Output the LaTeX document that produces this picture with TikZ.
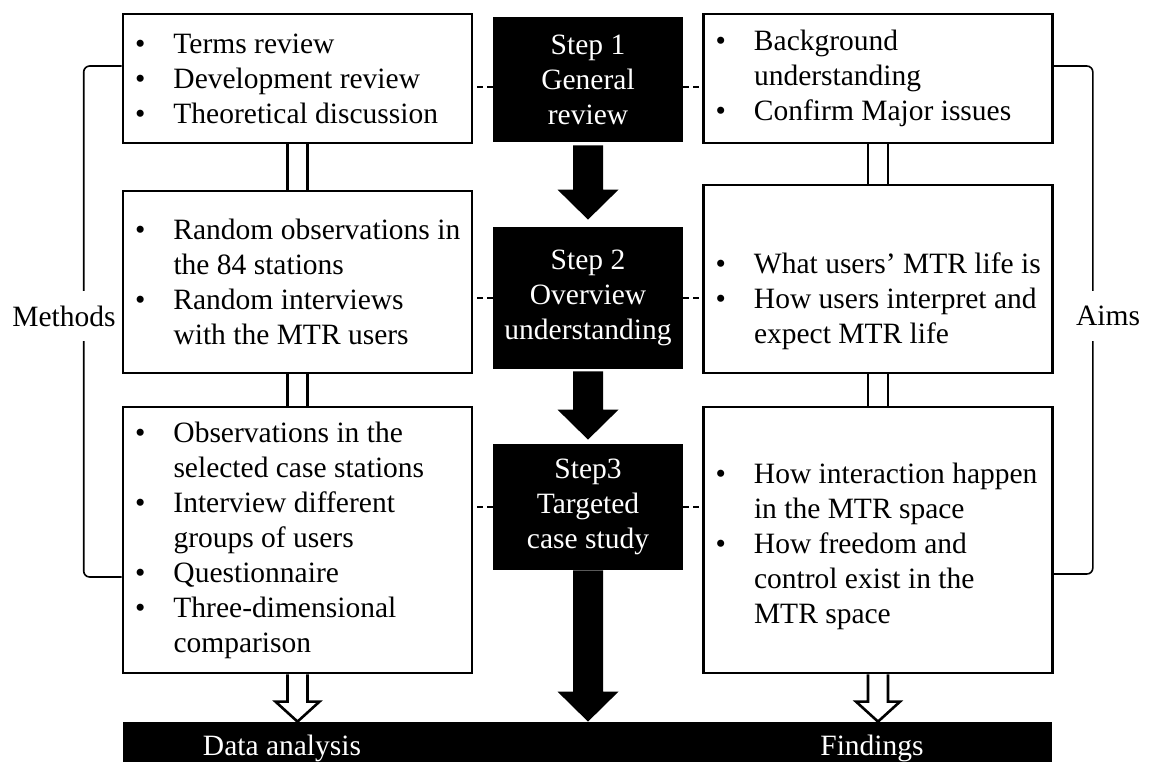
\documentclass[tikz,border=0pt]{standalone}
\usepackage{fontspec}
\setmainfont{Liberation Serif}
\usetikzlibrary{calc}
\tikzstyle{mbox} = [draw, line width=1.3pt, fill=white, text width=162.5pt, inner xsep=6pt, inner ysep=0pt, align=flush left]
\tikzstyle{stepbox} = [fill=black, text=white, minimum width=95pt, inner sep=0pt, align=center]
\tikzstyle{dashline} = [line width=1.3pt, dash pattern=on 3pt off 2pt]
\tikzstyle{dbl} = [line width=1.2pt]
\tikzstyle{brk} = [line width=0.8pt, rounded corners=3pt]
\tikzstyle{side} = [fill=white, inner xsep=1pt, inner ysep=7.5pt]
\def\itm#1{\mbox{\makebox[19.25pt][l]{\textbullet}#1}}
\def\cnt#1{\mbox{\hspace*{19.25pt}#1}}
\def\fatarrow(#1)(#2){\fill ($(#1)+(-15,0)$) -- ($(#2)+(-15,-30)$) -- ($(#2)+(-30.5,-30)$) -- (#2) -- ($(#2)+(30.5,-30)$) -- ($(#2)+(15,-30)$) -- ($(#1)+(15,0)$) -- cycle;}
\def\openarrow(#1)(#2){\filldraw[fill=white, line width=1.3pt] ($(#1)+(-10,0)$) -- ($(#2)+(-10,-20)$) -- ($(#2)+(-22,-20)$) -- (#2) -- ($(#2)+(22,-20)$) -- ($(#2)+(10,-20)$) -- ($(#1)+(10,0)$);}

\begin{document}
\begin{tikzpicture}[x=0.5pt, y=-0.5pt, font=\fontsize{14.75pt}{17.5pt}\selectfont]
\useasboundingbox (0,0) rectangle (1149,762);
% methods column
\node[mbox, minimum height=64.5pt] (L1) at (297.5,78.5) {\itm{Terms review}\\ \itm{Development review}\\ \itm{Theoretical discussion}};
\node[mbox, minimum height=91pt] (L2) at (297.5,282) {\itm{Random observations in}\\ \cnt{the 84 stations}\\ \itm{Random interviews}\\ \cnt{with the MTR users}};
\node[mbox, minimum height=133pt] (L3) at (297.5,540) {\itm{Observations in the}\\ \cnt{selected case stations}\\ \itm{Interview different}\\ \cnt{groups of users}\\ \itm{Questionnaire}\\ \itm{Three-dimensional}\\ \cnt{comparison}};
% steps
\node[stepbox, minimum height=62.5pt] (S1) at (588,79.5) {Step 1\\General\\review};
\node[stepbox, minimum height=71pt] (S2) at (588,298) {Step 2\\Overview\\understanding};
\node[stepbox, minimum height=63pt] (S3) at (588,507) {Step3\\Targeted\\case study};
% aims column
\node[mbox, minimum height=64.5pt] (R1) at (878,78.5) {\itm{Background}\\ \cnt{understanding}\\ \itm{Confirm Major issues}};
\node[mbox, minimum height=94pt] (R2) at (878,279) {\rule{0pt}{15pt}\\ \itm{What users’ MTR life is}\\ \itm{How users interpret and}\\ \cnt{expect MTR life}};
\node[mbox, minimum height=133pt] (R3) at (878,540) {\itm{\rule{0pt}{17pt}How interaction happen}\\ \cnt{in the MTR space}\\ \itm{How freedom and}\\ \cnt{control exist in the}\\ \cnt{MTR space}};
% bottom bar
\node[fill=black, minimum width=464.5pt, minimum height=20pt, inner sep=0pt] (bar) at (587.5,742) {};
\node[text=white, anchor=base] (dana) at (282,755) {Data analysis};
\node[text=white, anchor=base] (find) at (872,755) {Findings};

\foreach \a/\b in {L1/L2,L2/L3,R1/R2,R2/R3}
  \foreach \s in {-10,10}
    \draw[dbl] ($(\a.south)+(\s,0)$) -- ($(\b.north)+(\s,0)$);

\coordinate (d1) at ($(S1.west)+(0,7.5)$);
\draw[dashline] (d1) -- (d1 -| L1.east);
\draw[dashline] (d1 -| S1.east) -- (d1 -| R1.west);
\draw[dashline] (S2.west) -- (S2.west -| L2.east);
\draw[dashline] (S2.east) -- (S2.east -| R2.west);
\draw[dashline] (S3.west) -- (S3.west -| L3.east);
\draw[dashline] (S3.east) -- (S3.east -| R3.west);

\coordinate (a1) at ($(S1.south)+(0,3)$);
\coordinate (t1) at ($(S2.north)+(0,-7)$);
\coordinate (a2) at ($(S2.south)+(0,2)$);
\coordinate (t2) at ($(S3.north)+(0,-4)$);
\coordinate (t3) at (S3.south |- bar.north);
\fatarrow(a1)(t1)
\fatarrow(a2)(t2)
\fatarrow(S3.south)(t3)

\coordinate (t4) at (L3.south |- bar.north);
\coordinate (t5) at (R3.south |- bar.north);
\openarrow(L3.south)(t4)
\openarrow(R3.south)(t5)

\draw[brk] ($(L1.west)+(0,-12.5)$) -| ($(L3.west)+(-38,37)$) -- ($(L3.west)+(0,37)$);
\draw[brk] ($(R1.east)+(0,-12.5)$) -| ($(R3.east)+(39,34)$) -- ($(R3.east)+(0,34)$);
\node[side] (meth) at (64,316) {Methods};
\node[side] (aims) at (1108,316) {Aims};
\end{tikzpicture}
\end{document}
